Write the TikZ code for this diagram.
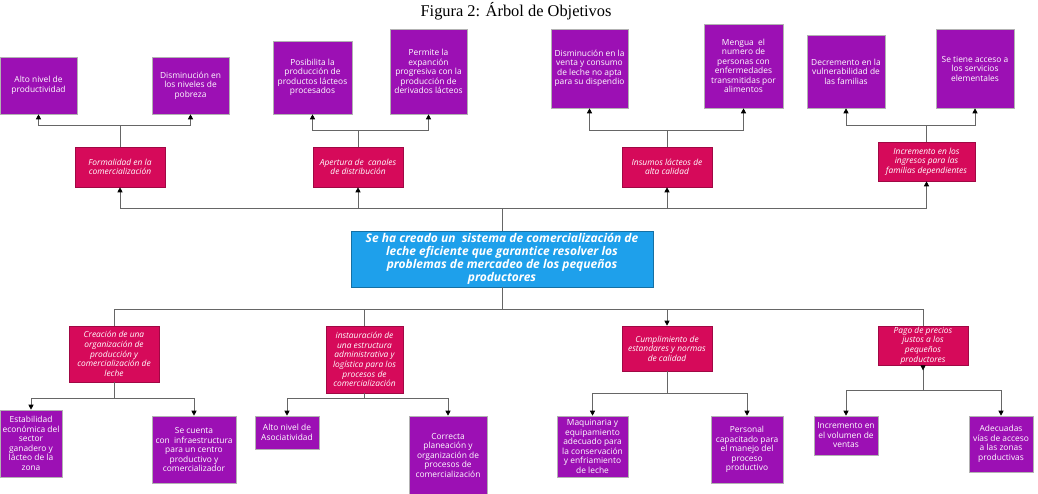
\documentclass[tikz,border=0pt]{standalone}
\usepackage{fontspec}
\setmainfont{Open Sans}
\newfontfamily\titlefont{Liberation Serif}
\usetikzlibrary{positioning, arrows.meta}

\definecolor{morado}{RGB}{156,16,180}
\definecolor{fucsia}{RGB}{214,10,90}
\definecolor{celeste}{RGB}{30,160,235}

\tikzset{
    fin/.style={rectangle, draw=gray!60, line width=0.6pt, fill=morado, text=white, align=center, inner sep=1pt, font=\fontsize{8.4}{9.5}\selectfont},
    directo/.style={rectangle, draw=fucsia!75!black, line width=0.6pt, fill=fucsia, text=white, align=center, inner sep=1pt, font=\fontsize{8.4}{9.6}\selectfont\itshape},
    central/.style={rectangle, draw=celeste!70!black, line width=0.8pt, fill=celeste, text=white, align=center, inner sep=1pt, font=\fontsize{12}{13.2}\selectfont\bfseries\itshape},
    linea/.style={draw=black!60, line width=0.7pt},
    hv/.style={-{Triangle[length=5pt,width=5pt,black]}, to path={-| (\tikztotarget)}},
    hl/.style={-, to path={-| (\tikztotarget)}}
}

\begin{document}
\begin{tikzpicture}[x=1pt, y=-1pt]
  \useasboundingbox (0,0) rectangle (1038,494);

  \node[font=\titlefont\fontsize{16.4}{18}\selectfont] (titulo) at (516,11) {Figura 2: Árbol de Objetivos};

  % fines indirectos
  \node[fin, minimum width=77, minimum height=57] (a1) at (38.5,85.5) {Alto nivel de\\productividad};
  \node[fin, minimum width=77, minimum height=57] (a2) at (190.5,85.5) {Disminución en\\los niveles de\\pobreza};
  \node[fin, minimum width=79, minimum height=73] (a3) at (312.5,77.5) {Posibilita la\\producción de\\productos lácteos\\procesados};
  \node[fin, minimum width=77, minimum height=85] (a4) at (428.5,71.5) {Permite la\\expanción\\progresiva con la\\producción de\\derivados lácteos};
  \node[fin, minimum width=77, minimum height=79] (a5) at (589.5,68.5) {Disminución en la\\venta y consumo\\de leche no apta\\para su dispendio};
  \node[fin, minimum width=79, minimum height=84] (a6) at (743.5,66) {Mengua~ el\\numero de\\personas con\\enfermedades\\transmitidas por\\alimentos};
  \node[fin, minimum width=78, minimum height=73] (a7) at (846,71.5) {Decremento en la\\vulnerabilidad de\\las familias};
  \node[fin, minimum width=78, minimum height=79] (a8) at (975,68.5) {Se tiene acceso a\\los servicios\\elementales};

  % fines directos
  \node[directo, minimum width=90, minimum height=40] (m1) at (120,167) {Formalidad en la\\comercialización};
  \node[directo, minimum width=90, minimum height=40] (m2) at (358,167) {Apertura de~ canales\\de distribución};
  \node[directo, minimum width=90, minimum height=40] (m3) at (667,167) {Insumos lácteos de\\alta calidad};
  \node[directo, minimum width=97, minimum height=39] (m4) at (926.5,161.5) {Incremento en los\\ingresos para las\\familias dependientes};

  % objetivo central
  \node[central, minimum width=302, minimum height=56] (obj) at (502,259) {Se ha creado un~ sistema de comercialización de\\leche eficiente que garantice resolver los\\problemas de mercadeo de los pequeños\\productores};

  % medios directos
  \node[directo, minimum width=90, minimum height=56] (l1) at (114,354) {Creación de una\\organización de\\producción y\\comercialización de\\leche};
  \node[directo, minimum width=77, minimum height=67] (l2) at (364.5,359.5) {instauración de\\una estructura\\administrativa y\\logística para los\\procesos de\\comercialización};
  \node[directo, minimum width=90, minimum height=45] (l3) at (667,348.5) {Cumplimiento de\\estandares y normas\\de calidad};
  \node[directo, minimum width=90, minimum height=39] (l4) at (923,345.5) {Pago de precios\\justos a los\\pequeños\\productores};

  % medios indirectos
  \node[fin, minimum width=62, minimum height=67] (b1) at (31,443.5) {Estabilidad\\económica del\\sector\\ganadero y\\lácteo de la\\zona};
  \node[fin, minimum width=84, minimum height=67] (b2) at (194,449.5) {Se cuenta\\con~ infraestructura\\para un centro\\productivo y\\comercializador};
  \node[fin, minimum width=64, minimum height=33] (b3) at (287,432.5) {Alto nivel de\\Asociatividad};
  \node[fin, minimum width=78, minimum height=78] (b4) at (448,455) {Correcta\\planeación y\\organización de\\procesos de\\comercialización};
  \node[fin, minimum width=71, minimum height=61] (b5) at (592.5,446.5) {Maquinaria y\\equipamiento\\adecuado para\\la conservación\\y enfriamiento\\de leche};
  \node[fin, minimum width=72, minimum height=67] (b6) at (747,449.5) {Personal\\capacitado para\\el manejo del\\proceso\\productivo};
  \node[fin, minimum width=64, minimum height=39] (b7) at (846,435.5) {Incremento en\\el volumen de\\ventas};
  \node[fin, minimum width=64, minimum height=56] (b8) at (1001,444) {Adecuadas\\vías de acceso\\a las zonas\\productivas};

  % puntos de reparto
  \coordinate (jt1) at (120,125);
  \coordinate (jt2) at (358,130);
  \coordinate (jt3) at (667,130);
  \coordinate (jt4) at (926.5,125);
  \coordinate (jm) at (502,208);
  \coordinate (jl) at (502,309);
  \coordinate (jb1) at (114,398);
  \coordinate (jb2) at (364.5,398);
  \coordinate (jb3) at (667,393);
  \coordinate (jb4) at (923,390);

  \draw[linea] (m1) -- (jt1) (jt1) edge[hv] (a1) (jt1) edge[hv] (a2)
    (m2) -- (jt2) (jt2) edge[hv] (a3) (jt2) edge[hv] (a4)
    (m3) -- (jt3) (jt3) edge[hv] (a5) (jt3) edge[hv] (a6)
    (m4) -- (jt4) (jt4) edge[hv] (a7) (jt4) edge[hv] (a8)
    (obj) -- (jm)
    (jm) edge[hv] (m1) (jm) edge[hv] (m2) (jm) edge[hv] (m3) (jm) edge[hv] (m4)
    (obj) -- (jl)
    (jl) edge[hl] (l1) (jl) edge[hl] (l2) (jl) edge[hv] (l3) (jl) edge[hl] (l4)
    (l1) -- (jb1) (jb1) edge[hv] (b1) (jb1) edge[hv] (b2)
    (l2) -- (jb2) (jb2) edge[hv] (b3) (jb2) edge[hv] (b4)
    (l3) -- (jb3) (jb3) edge[hv] (b5) (jb3) edge[hv] (b6)
    (jb4) edge[hv] (b7) (jb4) edge[hv] (b8);
  \draw[linea, {Triangle[reversed, length=5pt, width=5pt, black]}-] (l4) -- (jb4);
\end{tikzpicture}
\end{document}
